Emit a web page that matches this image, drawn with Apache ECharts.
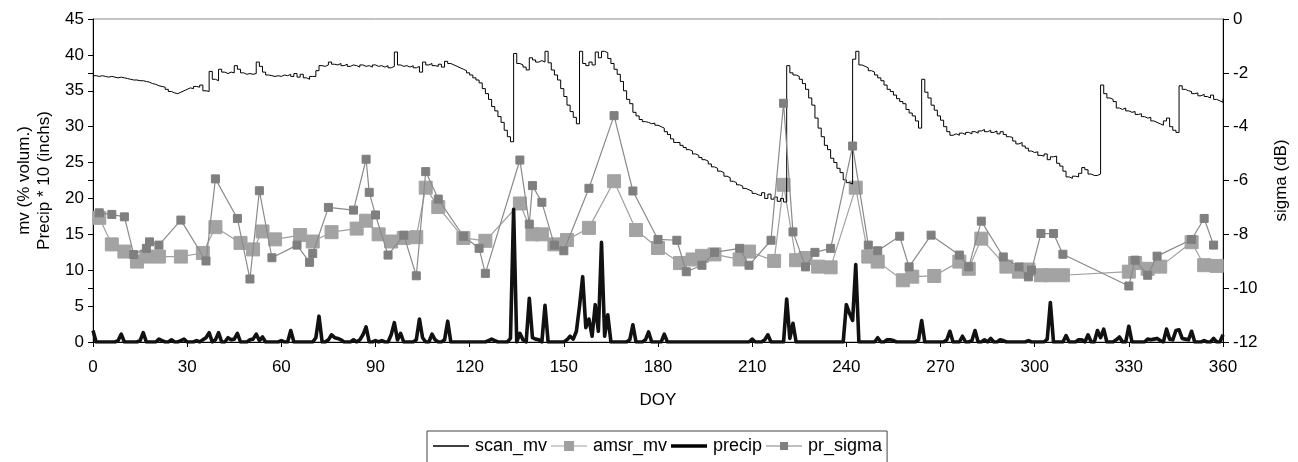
<!DOCTYPE html>
<html>
<head>
<meta charset="utf-8">
<script src="https://cdn.jsdelivr.net/npm/echarts@6/dist/echarts.min.js"></script>
<style>
html,body{margin:0;padding:0;background:#fff;}
#chart{width:1298px;height:462px;}
</style>
</head>
<body>
<div id="chart"></div>
<script>
// scan_mv: daily values, DOY 0..360 (rows of 10 days)
const scanMv = [
37.1,37.0,37.1,37.0,36.9,37.0,36.9,36.8,36.9,36.8,
36.7,36.6,36.5,36.5,36.4,36.4,36.3,36.2,36.0,35.9,
35.7,35.6,35.5,35.2,34.9,34.7,34.6,34.8,35.0,35.2,
35.4,35.3,35.6,35.5,35.8,35.0,34.9,37.7,36.6,36.4,
38.0,37.6,37.4,37.6,37.5,38.5,38.0,37.5,37.3,37.4,
37.3,37.4,39.0,38.4,37.6,37.2,37.1,37.0,37.1,37.0,
37.2,37.1,37.3,37.0,37.4,36.9,37.3,36.8,36.6,37.0,
37.0,37.8,38.5,38.4,38.6,39.0,38.7,38.6,38.8,38.5,
38.7,38.4,38.6,38.5,38.3,38.6,38.4,38.5,38.3,38.6,
38.4,38.5,38.3,38.5,38.2,38.4,40.4,38.6,38.4,38.5,
38.3,38.5,38.2,38.4,37.6,39.0,38.6,38.8,38.5,38.4,
38.7,38.3,39.1,38.8,38.6,38.4,38.2,38.0,37.8,37.5,
37.2,36.8,36.5,36.1,35.3,34.6,33.8,32.8,32.2,31.4,
30.6,29.5,28.6,27.9,40.2,38.8,38.6,38.3,37.9,39.6,
39.3,39.0,39.2,39.0,40.5,38.9,37.9,37.2,36.5,35.3,
34.2,33.0,32.1,31.3,30.4,40.5,38.8,38.5,39.0,38.6,
40.4,39.6,40.5,40.3,39.5,38.8,38.0,37.3,36.3,35.0,
33.8,33.2,32.0,31.5,31.0,30.7,30.6,30.4,30.5,30.2,
30.0,29.8,29.3,28.9,28.3,27.8,27.8,27.4,27.1,26.8,
26.6,26.2,26.0,25.7,25.4,25.2,24.8,24.4,24.2,23.8,
23.6,23.1,22.9,22.4,22.2,21.9,21.7,21.4,21.2,21.0,
20.7,20.5,20.4,20.8,20.0,20.6,19.9,20.2,19.6,20.0,
19.5,38.5,37.5,37.2,37.0,36.6,36.0,35.2,34.0,33.0,
31.2,29.8,28.6,27.4,26.8,25.6,25.0,24.2,23.6,22.6,
22.2,22.0,39.4,40.5,38.6,38.4,38.2,37.8,37.6,37.2,
36.8,36.4,35.8,35.2,34.9,34.4,33.9,33.5,33.2,32.4,
31.9,31.5,30.8,29.8,36.6,34.8,34.0,33.0,32.3,31.5,
30.9,30.0,29.3,28.8,29.0,28.8,29.1,28.9,29.2,29.0,
29.3,29.1,29.4,29.6,29.3,29.5,29.2,29.4,29.0,29.3,
28.9,28.6,28.5,28.0,27.6,27.8,27.3,27.0,26.6,26.4,
26.5,26.0,25.9,26.2,25.4,25.8,25.9,24.9,24.5,23.8,
23.0,22.8,23.1,23.0,23.5,24.3,24.0,23.4,23.2,23.2,
23.4,35.8,34.6,34.0,33.8,33.5,32.6,32.4,32.6,32.2,
32.0,32.1,31.7,31.8,31.4,31.2,31.3,30.8,30.6,30.4,
30.2,30.8,31.2,30.0,29.5,29.2,35.7,35.2,35.0,34.9,
34.6,34.7,34.3,34.5,34.2,34.0,34.4,33.8,33.6,33.4,
33.9
];

// precip (* 10 inches): daily values, DOY 0..360
const precip = [
1.6,0,0,0,0,0,0,0,0.2,1.1,
0,0,0,0,0,0.2,1.3,0,0,0,
0,0.4,0.2,0,0,0.3,0,0,0.2,0.4,
0,0,0,0.2,0,0.3,0.6,1.3,0,0.3,
1.3,0,0,0.6,0.3,0.4,1.2,0,0,0,
0.3,0.4,1.1,0.2,0.7,0,0,0,0,0,
0.2,0,0,1.6,0,0,0,0,0,0,
0,0.6,3.6,0,0,0.3,1.0,0.6,0.5,0.3,
0,0,0,0.3,0,0.3,1.0,2.1,0,0,
0.2,0,0.2,0,0,1.0,2.7,0.3,1.2,0,
0,0,0,0.3,3.2,0.6,0,0,1.1,0.3,
0,0,0.3,2.9,0,0,0,0,0,0,
0,0,0,0,0,0,0.2,0.4,0.2,0,
0,0,0,0.5,18.5,0,1.2,0.3,0,6.1,
0.6,0.4,0.3,0,5.1,0,0,0,0,0,
0,0.3,0.8,0.4,1.5,5.0,9.1,2.0,3.2,0.8,
5.2,1.5,13.9,0.8,3.8,0,0,0,0,0,
0,0.3,2.4,0,0,0,0.3,1.4,0,0,
0,0,1.1,0,0,0,0,0,0,0,
0,0,0,0,0,0,0,0,0,0,
0,0,0,0,0,0,0,0,0,0,
0.4,0,0,0,0.3,1.0,0,0,0,0,
0,6.0,0.5,2.6,0,0,0,0,0,0,
0,0,0,0,0,0,0,0,0,0,
5.2,4.0,3.0,10.8,0,0,0,0,0,0,
0.6,0,0,0.3,0.3,0.2,0,0,0,0,
0,0,0,0.3,3.0,0,0,0,0,0,
0,0,0.3,1.5,0,0,0,0.8,0,0,
0.2,1.6,0,0,0.3,0,0.5,0,0,0.3,
0.2,0,0,0,0,0,0,0,0.2,0,
0,0,0,0,0.4,5.5,0,0,0,0,
0.9,0,0,0,0.3,0.3,0,1.0,0,0,
1.6,0.6,1.8,0,0,0,0.3,0.7,0,0,
2.2,0,0,0,0,0,0.4,0.3,0.4,0.5,
0.2,0,1.8,0.4,0.3,1.6,1.7,0.5,0.4,0.3,
1.5,0,0,0,0.2,0,0,0.5,0,0,
1.0
];

// amsr_mv
const amsrDays = [2,6,10,14,17,21,28,35,39,47,51,54,58,66,70,76,84,87,91,95,99,103,106,110,118,125,136,140,143,147,151,158,166,173,180,187,191,194,198,206,209,217,220,224,227,231,235,243,247,250,258,261,268,276,279,283,291,295,298,302,305,309,330,332,336,340,350,354,358];
const amsrMv   = [17.3,13.6,12.6,11.2,11.9,11.9,11.9,12.4,16.0,13.8,12.9,15.4,14.3,14.9,14.0,15.3,15.8,16.9,15.0,14.0,14.5,14.6,21.5,18.8,14.5,14.1,19.3,15.0,15.0,13.6,14.2,15.9,22.4,15.6,13.1,11.0,11.5,12.0,12.2,11.5,12.6,11.3,21.9,11.4,11.7,10.5,10.4,21.5,11.9,11.2,8.6,9.1,9.2,11.2,10.2,14.4,10.5,9.8,10.1,9.3,9.3,9.3,9.8,11.0,10.2,10.5,13.9,10.7,10.6];

// pr_sigma (dB, right axis)
const prDays  = [2,6,10,13,17,18,21,28,36,39,46,50,53,57,65,69,70,75,83,87,88,90,94,99,103,106,110,118,123,125,136,139,140,143,147,150,158,166,172,180,186,189,194,198,206,209,216,220,223,227,230,235,242,247,250,257,260,267,276,279,283,290,295,298,299,302,306,309,330,332,336,339,350,354,357];
const prSigma = [-7.20,-7.26,-7.35,-8.75,-8.52,-8.28,-8.40,-7.47,-8.99,-5.94,-7.41,-9.66,-6.38,-8.87,-8.40,-9.04,-8.71,-7.00,-7.10,-5.21,-6.44,-7.28,-8.77,-8.03,-9.54,-5.67,-6.69,-8.07,-8.52,-9.45,-5.24,-7.62,-6.19,-6.81,-8.40,-8.61,-6.29,-3.59,-6.39,-8.19,-8.22,-9.39,-9.15,-8.67,-8.52,-9.15,-8.22,-3.13,-7.91,-9.21,-8.67,-8.52,-4.72,-8.40,-8.61,-8.07,-9.21,-8.03,-8.77,-9.21,-7.51,-8.84,-9.21,-9.58,-9.33,-7.97,-7.97,-8.74,-9.92,-8.96,-9.52,-8.81,-8.19,-7.41,-8.40];

const xTicks = {min: 0, max: 360, interval: 30};
const leftTicks = {min: 0, max: 45, interval: 5};
const rightTicks = {min: -12, max: 0, interval: 2};
const legendNames = ['scan_mv', 'amsr_mv', 'precip', 'pr_sigma'];

const FONT = '"Liberation Sans", Arial, sans-serif';
const chart = echarts.init(document.getElementById('chart'), null, {renderer: 'canvas'});

const pair = (xs, ys) => ys.map((v, i) => [xs[i], v]);
const daily = ys => ys.map((v, i) => [i, v]);

chart.setOption({
  animation: false,
  backgroundColor: '#fff',
  textStyle: {fontFamily: FONT, color: '#000'},
  grid: {left: 93, right: 72, top: 19, bottom: 120, show: true, borderColor: '#888', borderWidth: 1},
  legend: {
    top: 431, left: 427,
    data: [
      {name: legendNames[0], icon: 'path://M0,0H36V1.4H0Z', itemStyle: {color: '#000'}},
      {name: legendNames[1], icon: 'path://M0,4.4H13V0H23V4.4H36V5.6H23V10H13V5.6H0Z', itemStyle: {color: '#a0a0a0'}},
      {name: legendNames[2], icon: 'path://M0,0H36V3.5H0Z', itemStyle: {color: '#000'}},
      {name: legendNames[3], icon: 'path://M0,3.4H14V0H22V3.4H36V4.6H22V8H14V4.6H0Z', itemStyle: {color: '#808080'}}
    ],
    itemWidth: 36, itemHeight: 14, itemGap: 4,
    borderColor: '#444', borderWidth: 1, padding: [6, 5, 12, 6],
    textStyle: {fontFamily: FONT, fontSize: 18, color: '#000', padding: [0, 0, 0, 1]}
  },
  xAxis: {
    type: 'value', min: xTicks.min, max: xTicks.max, interval: xTicks.interval,
    name: 'DOY', nameLocation: 'middle', nameGap: 50,
    nameTextStyle: {fontFamily: FONT, fontSize: 17, color: '#000'},
    axisLine: {show: true, onZero: false, lineStyle: {color: '#000', width: 1}},
    axisTick: {show: true, inside: false, length: 5, lineStyle: {color: '#000'}},
    axisLabel: {fontFamily: FONT, fontSize: 17, color: '#000', margin: 17},
    splitLine: {show: false}
  },
  yAxis: [{
    type: 'value', position: 'left', min: leftTicks.min, max: leftTicks.max, interval: leftTicks.interval,
    name: 'mv (% volum.)\nPrecip * 10 (inchs)', nameLocation: 'middle', nameGap: 36, nameRotate: 90,
    nameTextStyle: {fontFamily: FONT, fontSize: 17, color: '#000', lineHeight: 20},
    axisLine: {show: true, onZero: false, lineStyle: {color: '#000', width: 1}},
    axisTick: {show: true, length: 5, lineStyle: {color: '#000'}},
    axisLabel: {fontFamily: FONT, fontSize: 17, color: '#000', margin: 9},
    splitLine: {show: false}
  }, {
    type: 'value', position: 'right', min: rightTicks.min, max: rightTicks.max, interval: rightTicks.interval,
    name: 'sigma (dB)', nameLocation: 'middle', nameGap: 50, nameRotate: 90,
    nameTextStyle: {fontFamily: FONT, fontSize: 17, color: '#000'},
    axisLine: {show: true, onZero: false, lineStyle: {color: '#000', width: 1}},
    axisTick: {show: true, length: 6, lineStyle: {color: '#000'}},
    axisLabel: {fontFamily: FONT, fontSize: 17, color: '#000', margin: 10},
    splitLine: {show: false}
  }, {
    type: 'value', position: 'right', min: rightTicks.min, max: rightTicks.max, interval: rightTicks.interval,
    axisLine: {show: false}, axisLabel: {show: false}, splitLine: {show: false},
    axisTick: {show: true, inside: true, length: 5, lineStyle: {color: '#000'}}
  }],
  series: [{
    name: 'scan_mv', type: 'line', yAxisIndex: 0, data: daily(scanMv),
    step: 'end', symbol: 'none', lineStyle: {color: '#000', width: 1}, itemStyle: {color: '#000'}, z: 3
  }, {
    name: 'amsr_mv', type: 'line', yAxisIndex: 0, data: pair(amsrDays, amsrMv),
    symbol: 'rect', symbolSize: 13, lineStyle: {color: '#a0a0a0', width: 1.2},
    itemStyle: {color: '#a3a3a3', borderColor: '#a3a3a3'}, z: 2
  }, {
    name: 'precip', type: 'line', yAxisIndex: 0, data: daily(precip),
    symbol: 'none', lineStyle: {color: '#111', width: 3.6, join: 'round'}, itemStyle: {color: '#111'}, z: 4
  }, {
    name: 'pr_sigma', type: 'line', yAxisIndex: 1, data: pair(prDays, prSigma),
    symbol: 'rect', symbolSize: 8, lineStyle: {color: '#8a8a8a', width: 1.2},
    itemStyle: {color: '#7f7f7f', borderColor: '#7f7f7f'}, z: 5
  }]
});
</script>
</body>
</html>
